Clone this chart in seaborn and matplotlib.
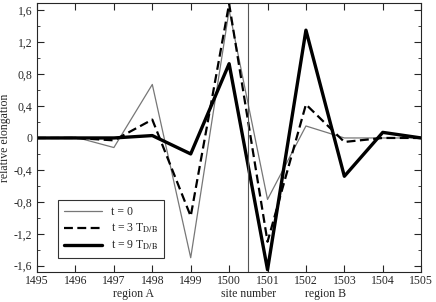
import numpy as np
import pandas as pd
import matplotlib
matplotlib.use("Agg")
import matplotlib.pyplot as plt
import seaborn as sns
from matplotlib.ticker import MultipleLocator, FuncFormatter

sites = [1495, 1496, 1497, 1498, 1499, 1500, 1501, 1502, 1503, 1504, 1505]
t0 = [0.0, 0.01, -0.12, 0.67, -1.5, 1.6, -0.77, 0.15, 0.0, 0.0, 0.0]
t3 = [0.0, 0.0, -0.03, 0.23, -0.98, 1.68, -1.3, 0.42, -0.05, 0.0, 0.0]
t9 = [0.0, 0.0, 0.0, 0.03, -0.2, 0.93, -1.65, 1.35, -0.48, 0.07, 0.0]
labels = ["t = 0", r"t = 3 T$_{\mathrm{D/B}}$", r"t = 9 T$_{\mathrm{D/B}}$"]

sns.set_style("ticks")
plt.rcParams['font.family'] = ['Liberation Serif', 'DejaVu Serif']
plt.rcParams['mathtext.fontset'] = 'stix'

df = pd.DataFrame({"site": sites * 3,
                   "val": t0 + t3 + t9,
                   "series": [labels[0]] * 11 + [labels[1]] * 11 + [labels[2]] * 11})

fig = plt.figure(figsize=(4.36, 3.02), dpi=100)
ax = fig.add_axes([0.085, 0.099, 0.881, 0.891])

styles = {labels[0]: dict(color="#777777", lw=0.9, ls="-"),
          labels[1]: dict(color="black", lw=1.6, ls=(0, (4, 2))),
          labels[2]: dict(color="black", lw=2.4, ls="-")}
for lab in labels:
    sub = df[df.series == lab]
    sns.lineplot(data=sub, x="site", y="val", ax=ax, label=lab, **styles[lab])

ax.axvline(1500.5, color="#555555", lw=0.8)
ax.set_xlim(1495, 1505)
ax.set_ylim(-1.68, 1.69)
ax.xaxis.set_major_locator(MultipleLocator(1))
ax.yaxis.set_major_locator(MultipleLocator(0.4))
ax.yaxis.set_minor_locator(MultipleLocator(0.2))
ax.yaxis.set_major_formatter(FuncFormatter(
    lambda v, p: "0" if abs(v) < 1e-9 else f"{v:.1f}".replace(".", ",")))
ax.tick_params(which="both", direction="in", top=True, right=True, labelsize=8.5)
ax.tick_params(axis="x", pad=2)
ax.tick_params(which="major", length=5)
ax.tick_params(which="minor", length=2.5)
ax.set_xlabel("")
ax.set_ylabel("relative elongation", fontsize=8.5, labelpad=2)

for x, txt in [(1497.5, "region A"), (1500.5, "site number"), (1502.5, "region B")]:
    ax.text(x, -0.058, txt, transform=ax.get_xaxis_transform(),
            ha="center", va="top", fontsize=8.5)

leg = ax.legend(loc="lower left", bbox_to_anchor=(0.04, 0.03), fontsize=8.5,
                frameon=True, fancybox=False, edgecolor="black",
                handlelength=3.2, borderpad=0.5, labelspacing=0.3)
leg.get_frame().set_linewidth(0.8)

fig.savefig("out.png", dpi=100)
